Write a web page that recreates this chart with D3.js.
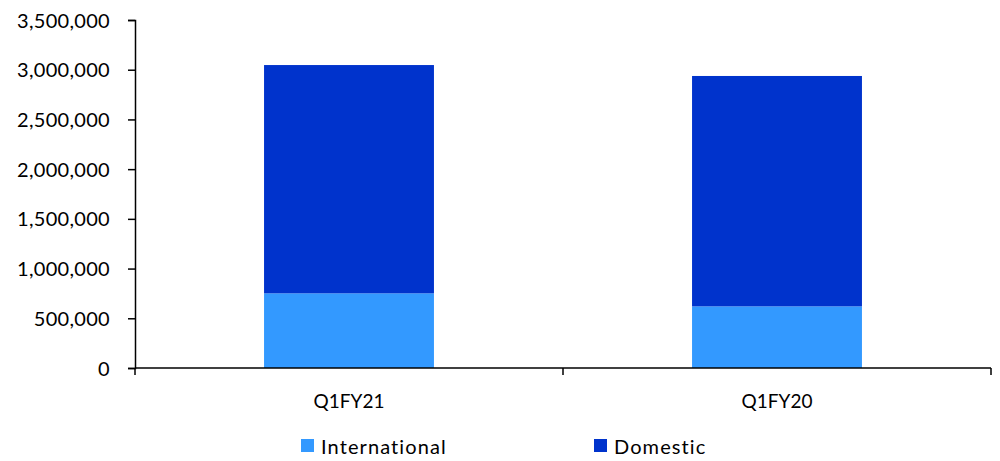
<!DOCTYPE html>
<html>
<head>
<meta charset="utf-8">
<script src="https://cdn.jsdelivr.net/npm/d3@7"></script>
<style>
  body { margin: 0; background: #fff; }
  text { font-family: Lato, "Open Sans", sans-serif; fill: #000; }
</style>
</head>
<body>
<div id="chart"></div>
<script>
// chart data
var categories = ["Q1FY21", "Q1FY20"];
var international = [751000, 620000];
var domestic = [2296000, 2317000];
var seriesNames = ["International", "Domestic"];
var seriesColors = ["#3399FF", "#0033CC"];
var yTicks = [0, 500000, 1000000, 1500000, 2000000, 2500000, 3000000, 3500000];

var svgWidth = 1000, svgHeight = 461;
var margin = { top: 20, right: 9, bottom: 93, left: 135 };
var width = svgWidth - margin.left - margin.right;
var height = svgHeight - margin.top - margin.bottom;

var svg = d3.select("#chart").append("svg")
    .attr("width", svgWidth)
    .attr("height", svgHeight);

var chartGroup = svg.append("g")
    .attr("transform", `translate(${margin.left}, ${margin.top})`);

var rows = categories.map(function (c, i) {
    return { cat: c, International: international[i], Domestic: domestic[i] };
});
var stacked = d3.stack().keys(seriesNames)(rows);

var xScale = d3.scaleBand()
    .domain(categories)
    .range([0, width])
    .paddingInner(0.603)
    .paddingOuter(0.3015);

var yScale = d3.scaleLinear()
    .domain([0, 3500000])
    .range([height, 0]);

var color = d3.scaleOrdinal().domain(seriesNames).range(seriesColors);

// bars
chartGroup.selectAll("g.series")
    .data(stacked)
    .enter()
    .append("g")
    .attr("class", "series")
    .attr("fill", d => color(d.key))
    .selectAll("rect")
    .data(d => d)
    .enter()
    .append("rect")
    .attr("x", d => xScale(d.data.cat))
    .attr("y", d => yScale(d[1]))
    .attr("width", xScale.bandwidth())
    .attr("height", d => yScale(d[0]) - yScale(d[1]));

// y axis
var yAxis = d3.axisLeft(yScale)
    .tickValues(yTicks)
    .tickFormat(d3.format(","))
    .tickSizeInner(7)
    .tickSizeOuter(7)
    .tickPadding(18);

var yG = chartGroup.append("g").call(yAxis);
yG.selectAll("text")
    .attr("font-size", 20)
    .attr("letter-spacing", "0.3px")
    .attr("dy", "0.35em");
yG.selectAll("path, line").attr("stroke", "#000").attr("stroke-width", 1.5);

// x axis with ticks at band boundaries
var xG = chartGroup.append("g")
    .attr("transform", `translate(0,${height})`);
xG.append("line")
    .attr("x1", 0).attr("x2", width)
    .attr("stroke", "#000").attr("stroke-width", 1.5);
var bounds = [0].concat(categories.map(function (c) {
    return xScale(c) + xScale.bandwidth() / 2 + xScale.step() / 2;
}));
xG.selectAll("line.tick")
    .data(bounds)
    .enter()
    .append("line")
    .attr("class", "tick")
    .attr("x1", d => d).attr("x2", d => d)
    .attr("y1", 0).attr("y2", 7)
    .attr("stroke", "#000").attr("stroke-width", 1.5);
xG.selectAll("text")
    .data(categories)
    .enter()
    .append("text")
    .attr("x", d => xScale(d) + xScale.bandwidth() / 2)
    .attr("y", 40)
    .attr("text-anchor", "middle")
    .attr("font-size", 19)
    .text(d => d);

// legend
var legendX = [301, 594];
var legend = svg.selectAll("g.legend")
    .data(seriesNames)
    .enter()
    .append("g")
    .attr("class", "legend")
    .attr("transform", (d, i) => `translate(${legendX[i]}, 439)`);
legend.append("rect")
    .attr("width", 13).attr("height", 13)
    .attr("fill", d => color(d));
legend.append("text")
    .attr("x", 20).attr("y", 15)
    .attr("font-size", 20)
    .attr("letter-spacing", "1.1px")
    .text(d => d);
</script>
</body>
</html>
